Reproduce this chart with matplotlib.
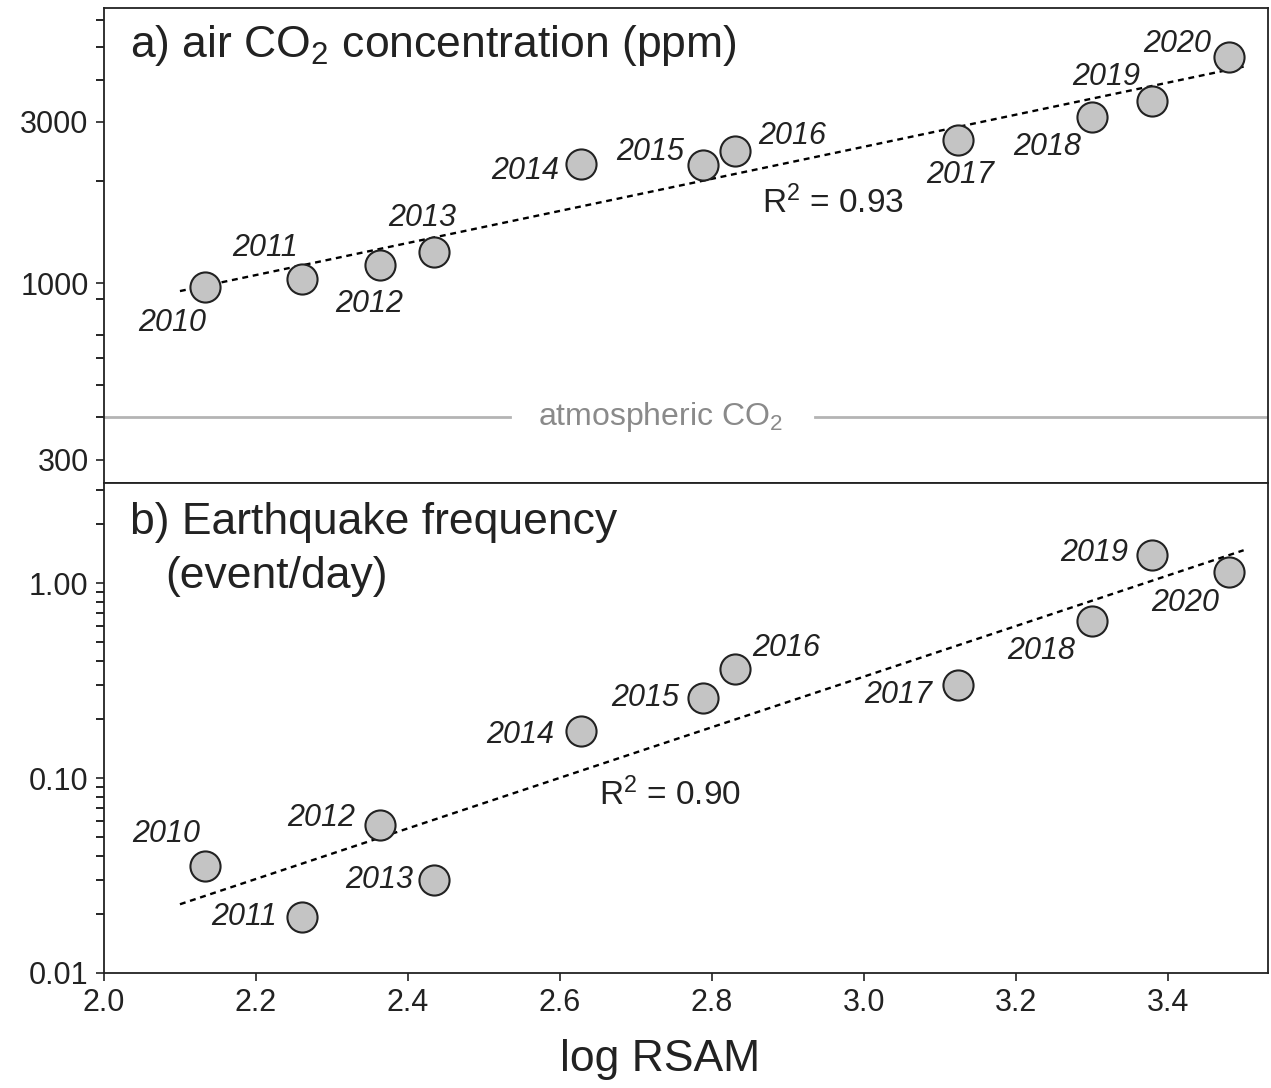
import numpy as np
import matplotlib
matplotlib.use('Agg')
import matplotlib.pyplot as plt
from matplotlib.ticker import FixedLocator, FixedFormatter, NullFormatter

plt.rcParams['font.family'] = ['Liberation Sans', 'DejaVu Sans']
plt.rcParams['mathtext.fontset'] = 'custom'
plt.rcParams['mathtext.rm'] = 'Liberation Sans'
plt.rcParams['mathtext.it'] = 'Liberation Sans:italic'

# data
years = ['2010', '2011', '2012', '2013', '2014', '2015', '2016', '2017', '2018', '2019', '2020']
log_rsam = [2.133, 2.261, 2.363, 2.434, 2.628, 2.789, 2.831, 3.124, 3.300, 3.379, 3.481]
co2_ppm = [973, 1028, 1130, 1235, 2250, 2235, 2458, 2648, 3097, 3455, 4660]
eq_freq = [0.0354, 0.0194, 0.0574, 0.030, 0.174, 0.257, 0.362, 0.300, 0.638, 1.39, 1.14]
r2_co2 = 0.93
r2_eq = 0.90
atm_co2 = 400

# label offsets (pixels) from each point
top_offsets = [(-33, -36), (-37, 31), (-11, -39), (-12, 34), (-56, -7), (-53, 13),
               (57, 15), (2, -35), (-44, -30), (-46, 24), (-52, 13)]
bot_offsets = [(-39, 32), (-58, 0), (-59, 7), (-55, 0), (-61, -4), (-58, 0),
               (51, 21), (-60, -10), (-50, -30), (-58, 2), (-44, -31)]

fig = plt.figure(figsize=(12.71, 10.88), dpi=100)
ax1 = fig.add_axes([0.0818, 0.5561, 0.9158, 0.4365])
ax2 = fig.add_axes([0.0818, 0.1057, 0.9158, 0.4504], sharex=ax1)

x = np.array(log_rsam)
xfit = np.array([2.1, 3.5])
ink = '#222222'

for ax, yv, offs, r2, r2pos in [(ax1, co2_ppm, top_offsets, r2_co2, (2.96, 0.59)),
                                (ax2, eq_freq, bot_offsets, r2_eq, (2.745, 0.363))]:
    y = np.array(yv)
    p = np.polyfit(x, np.log10(y), 1)
    ax.plot(xfit, 10 ** np.polyval(p, xfit), ls=(0, (2.5, 2)), color='black', lw=1.7, zorder=2)
    ax.scatter(x, y, s=470, c='#c4c4c4', edgecolors=ink, linewidths=1.5, zorder=3)
    for xi, yi, lab, (dx, dy) in zip(x, y, years, offs):
        ax.annotate(lab, (xi, yi), xytext=(dx, dy), textcoords='offset pixels',
                    ha='center', va='center', fontsize=22, style='italic', color=ink)
    ax.text(r2pos[0], r2pos[1], 'R$^2$ = %.2f' % r2, transform=ax.get_xaxis_transform(),
            ha='center', va='center', fontsize=24, color=ink)
    ax.set_yscale('log')
    ax.tick_params(direction='out', length=6, width=1.2, labelsize=22, colors=ink, pad=5)
    ax.tick_params(which='minor', direction='out', length=6, width=1.2)
    for s in ax.spines.values():
        s.set_linewidth(1.3)
        s.set_color(ink)

# top panel
ax1.set_ylim(256, 6520)
ax1.yaxis.set_major_locator(FixedLocator([300, 1000, 3000]))
ax1.yaxis.set_major_formatter(FixedFormatter(['300', '1000', '3000']))
ax1.yaxis.set_minor_locator(FixedLocator([400, 500, 600, 700, 900, 2000, 4000, 5000, 6000]))
ax1.yaxis.set_minor_formatter(NullFormatter())
ax1.axhline(atm_co2, xmin=0, xmax=0.349, color='#b4b4b4', lw=2, zorder=1)
ax1.axhline(atm_co2, xmin=0.611, xmax=1, color='#b4b4b4', lw=2, zorder=1)
ax1.text(2.733, atm_co2, 'atmospheric CO$_2$', ha='center', va='center', fontsize=23, color='#8a8a8a')
ax1.text(0.022, 0.922, 'a) air CO$_2$ concentration (ppm)', transform=ax1.transAxes,
         ha='left', va='center', fontsize=32, color=ink)
ax1.tick_params(axis='x', bottom=False, labelbottom=False)

# bottom panel
ax2.set_ylim(0.01, 3.26)
ax2.yaxis.set_major_locator(FixedLocator([0.01, 0.1, 1.0]))
ax2.yaxis.set_major_formatter(FixedFormatter(['0.01', '0.10', '1.00']))
minors = [m * d for d in [0.01, 0.1, 1.0] for m in range(2, 10)]
ax2.yaxis.set_minor_locator(FixedLocator([v for v in minors if v < 3.26]))
ax2.yaxis.set_minor_formatter(NullFormatter())
ax2.text(0.022, 0.92, 'b) Earthquake frequency', transform=ax2.transAxes,
         ha='left', va='center', fontsize=32, color=ink)
ax2.text(0.053, 0.81, '(event/day)', transform=ax2.transAxes,
         ha='left', va='center', fontsize=32, color=ink)

ax2.set_xlim(2.0, 3.532)
ax2.set_xticks([2.0, 2.2, 2.4, 2.6, 2.8, 3.0, 3.2, 3.4])
ax2.set_xticklabels(['2.0', '2.2', '2.4', '2.6', '2.8', '3.0', '3.2', '3.4'])
ax2.set_xlabel('log RSAM', fontsize=32, color=ink)
ax2.xaxis.set_label_coords(0.478, -0.135)

fig.savefig('out.png', dpi=100)
